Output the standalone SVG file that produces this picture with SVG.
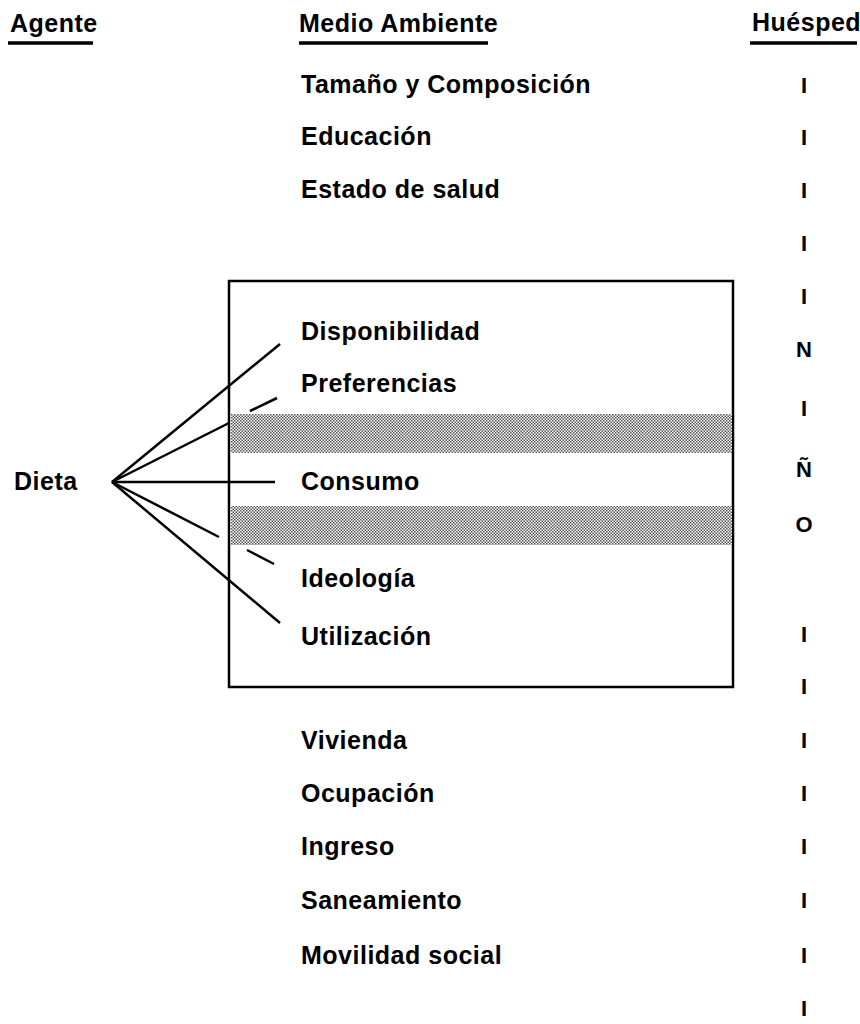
<svg xmlns="http://www.w3.org/2000/svg" width="860" height="1024" viewBox="0 0 860 1024">
<defs>
<pattern id="dots" width="3" height="3" patternUnits="userSpaceOnUse">
<rect width="3" height="3" fill="#ffffff"/>
<rect width="1.5" height="1.5" fill="#555"/>
<rect x="1.5" y="1.5" width="1.5" height="1.5" fill="#555"/>
</pattern>
</defs>
<style>
text{font-family:"Liberation Sans",Arial,sans-serif;font-weight:bold;fill:#000;font-size:25px;letter-spacing:0.5px;}
.m{text-anchor:middle;font-size:22px;letter-spacing:0;}
.ln{stroke:#000;stroke-width:2.5;fill:none;stroke-linecap:butt;}
.ul{stroke:#000;stroke-width:3.5;fill:none;}
</style>
<rect width="860" height="1024" fill="#fff"/>
<g id="headers">
<text x="10" y="32">Agente</text>
<line class="ul" x1="8" y1="43" x2="93" y2="43"/>
<text x="299" y="32">Medio Ambiente</text>
<line class="ul" x1="299" y1="43" x2="488" y2="43"/>
<text x="752" y="31" letter-spacing="0">Huésped</text>
<line class="ul" x1="750" y1="43" x2="857" y2="43"/>
</g>
<g id="box">
<rect x="229" y="281" width="504" height="406" fill="none" stroke="#000" stroke-width="2.5"/>
<rect x="231" y="414" width="501" height="39" fill="url(#dots)"/>
<rect x="231" y="506" width="501" height="39" fill="url(#dots)"/>
</g>
<g id="agente">
<text x="14" y="490">Dieta</text>
</g>
<g id="medio">
<text x="301" y="93">Tamaño y Composición</text>
<text x="301" y="145">Educación</text>
<text x="301" y="198">Estado de salud</text>
<text x="301" y="340">Disponibilidad</text>
<text x="301" y="392">Preferencias</text>
<text x="301" y="490">Consumo</text>
<text x="301" y="587">Ideología</text>
<text x="301" y="645">Utilización</text>
<text x="301" y="749">Vivienda</text>
<text x="301" y="802">Ocupación</text>
<text x="301" y="855">Ingreso</text>
<text x="301" y="909">Saneamiento</text>
<text x="301" y="964">Movilidad social</text>
</g>
<g id="huesped">
<text class="m" x="804" y="93">I</text>
<text class="m" x="804" y="145">I</text>
<text class="m" x="804" y="198">I</text>
<text class="m" x="804" y="251">I</text>
<text class="m" x="804" y="304">I</text>
<text class="m" x="804" y="357">N</text>
<text class="m" x="804" y="416">I</text>
<text class="m" x="804" y="477">Ñ</text>
<text class="m" x="804" y="532">O</text>
<text class="m" x="804" y="642">I</text>
<text class="m" x="804" y="694">I</text>
<text class="m" x="804" y="748">I</text>
<text class="m" x="804" y="801">I</text>
<text class="m" x="804" y="854">I</text>
<text class="m" x="804" y="908">I</text>
<text class="m" x="804" y="963">I</text>
<text class="m" x="804" y="1016">I</text>
</g>
<g id="connectors">
<line class="ln" x1="112" y1="482" x2="280" y2="344"/>
<line class="ln" x1="112" y1="482" x2="229" y2="423"/>
<line class="ln" x1="250" y1="411" x2="277" y2="398"/>
<line class="ln" x1="112" y1="482" x2="275" y2="482"/>
<line class="ln" x1="112" y1="482" x2="219" y2="537"/>
<line class="ln" x1="247" y1="550" x2="274" y2="564"/>
<line class="ln" x1="112" y1="482" x2="280" y2="623"/>
</g>
</svg>
